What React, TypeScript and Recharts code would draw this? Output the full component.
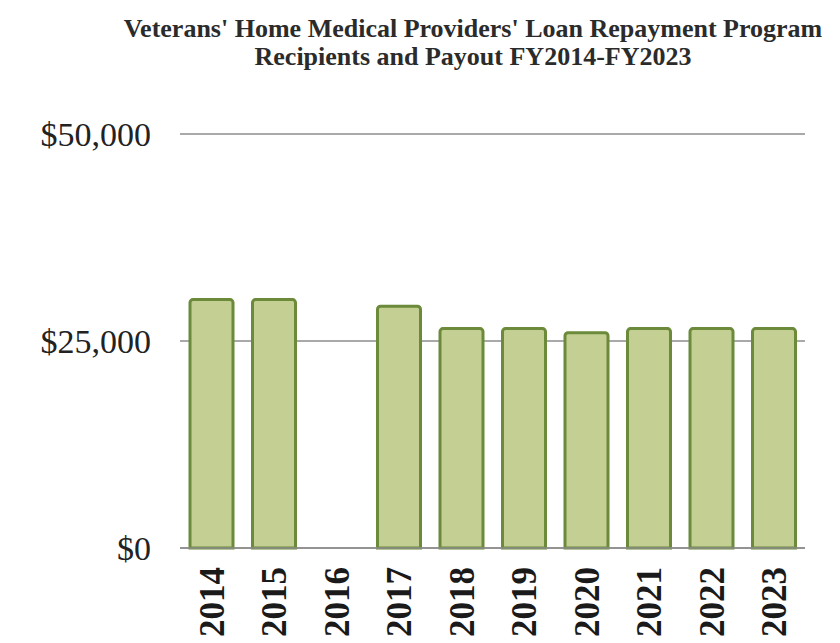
import React from "react";
import { Bar, BarChart, CartesianGrid, XAxis, YAxis } from "recharts";

const years = ["2014", "2015", "2016", "2017", "2018", "2019", "2020", "2021", "2022", "2023"];
const payout = [30000, 30000, 0, 29200, 26500, 26500, 26000, 26500, 26500, 26500];
const yTicks = [0, 25000, 50000];

const titleLines = [
  "Veterans' Home Medical Providers' Loan Repayment Program",
  "Recipients and Payout FY2014-FY2023",
];

const chartData = years.map((year, i) => ({ year, payout: payout[i] }));

const serif = "'Liberation Serif', 'Times New Roman', serif";

function formatDollars(value: number): string {
  return "$" + value.toLocaleString("en-US");
}

function YearTick({ x, y, payload }: any) {
  return (
    <g transform={`translate(${x},${y})`}>
      <text
        transform="rotate(-90)"
        x={-11}
        y={0}
        dy="0.35em"
        textAnchor="end"
        fill="#1a1a1a"
        fontFamily={serif}
        fontWeight="bold"
        fontSize={35}
      >
        {payload.value}
      </text>
    </g>
  );
}

export default function App() {
  return (
    <div
      style={{
        position: "absolute",
        left: 0,
        top: 0,
        width: 840,
        height: 643,
        overflow: "hidden",
        background: "#ffffff",
      }}
    >
      <div
        style={{
          position: "absolute",
          left: 0,
          top: 15,
          width: 840,
          paddingLeft: 106,
          boxSizing: "border-box",
          textAlign: "center",
          fontFamily: serif,
          fontWeight: "bold",
          fontSize: 26,
          lineHeight: "28px",
          color: "#2b2b2b",
          whiteSpace: "nowrap",
        }}
      >
        {titleLines.map((line) => (
          <div key={line}>{line}</div>
        ))}
      </div>
      <BarChart
        width={840}
        height={643}
        data={chartData}
        margin={{ top: 134, right: 35, left: 0, bottom: 0 }}
        barCategoryGap="16%"
      >
        <CartesianGrid vertical={false} stroke="#8c8c8c" strokeWidth={1.5} />
        <XAxis
          dataKey="year"
          height={95}
          interval={0}
          tick={<YearTick />}
          tickLine={false}
          axisLine={{ stroke: "#8c8c8c", strokeWidth: 1.5 }}
        />
        <YAxis
          width={180}
          domain={[0, 50000]}
          ticks={yTicks}
          tickFormatter={formatDollars}
          tickLine={false}
          axisLine={false}
          tickMargin={23}
          tick={{ fill: "#222222", fontFamily: serif, fontSize: 34 }}
        />
        <Bar
          dataKey="payout"
          fill="#c4cf93"
          stroke="#6b8a3a"
          strokeWidth={3}
          radius={[3, 3, 0, 0]}
          isAnimationActive={false}
        />
      </BarChart>
    </div>
  );
}
